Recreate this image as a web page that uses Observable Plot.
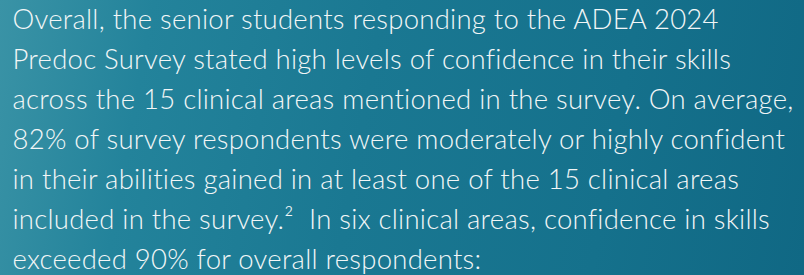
<!DOCTYPE html>
<html>
<head>
<meta charset="utf-8">
<script src="https://cdn.jsdelivr.net/npm/d3@7"></script>
<script src="https://cdn.jsdelivr.net/npm/@observablehq/plot@0.6"></script>
<style>
  html, body { margin: 0; padding: 0; background: #1b7a92; }
  #chart svg { display: block; }
  #chart text { font-variant-ligatures: none; }
</style>
</head>
<body>
<div id="chart"></div>
<script>
const lines = [
  "Overall, the senior students responding to the ADEA 2024",
  "Predoc Survey stated high levels of confidence in their skills",
  "across the 15 clinical areas mentioned in the survey. On average,",
  "82% of survey respondents were moderately or highly confident",
  "in their abilities gained in at least one of the 15 clinical areas",
  "included in the survey.\u00B2  In six clinical areas, confidence in skills",
  "exceeded 90% for overall respondents:"
];
const lineIndex = lines.map((_, i) => i);

const plot = Plot.plot({
  width: 804,
  height: 275,
  margin: 0,
  x: {domain: [0, 1], range: [12, 792], axis: null},
  y: {domain: [0, lines.length - 1], range: [28, 268], axis: null},
  style: {
    background: "linear-gradient(100deg, #3a93a6 0%, #23839b 18%, #1a7892 45%, #15718c 75%, #106884 100%)",
    overflow: "visible"
  },
  marks: [
    Plot.text(lineIndex, {
      x: () => 0,
      y: d => d,
      text: d => lines[d],
      textAnchor: "start",
      lineAnchor: "bottom",
      fill: "#f2f6f7",
      fontSize: 27.5,
      fontWeight: 300,
      fontFamily: "Lato",
      letterSpacing: "0px"
    })
  ]
});
document.getElementById("chart").appendChild(plot);

// fit tracking so the widest line spans the text block, as in the reference
const texts = plot.querySelectorAll("text");
const ref = texts[2];
const w = ref.getComputedTextLength();
const target = 781;
const ls = (target - w) / lines[2].length;
texts.forEach(t => t.setAttribute("letter-spacing", ls.toFixed(3)));
texts.forEach(t => t.style.letterSpacing = ls.toFixed(3) + "px");
</script>
</body>
</html>
